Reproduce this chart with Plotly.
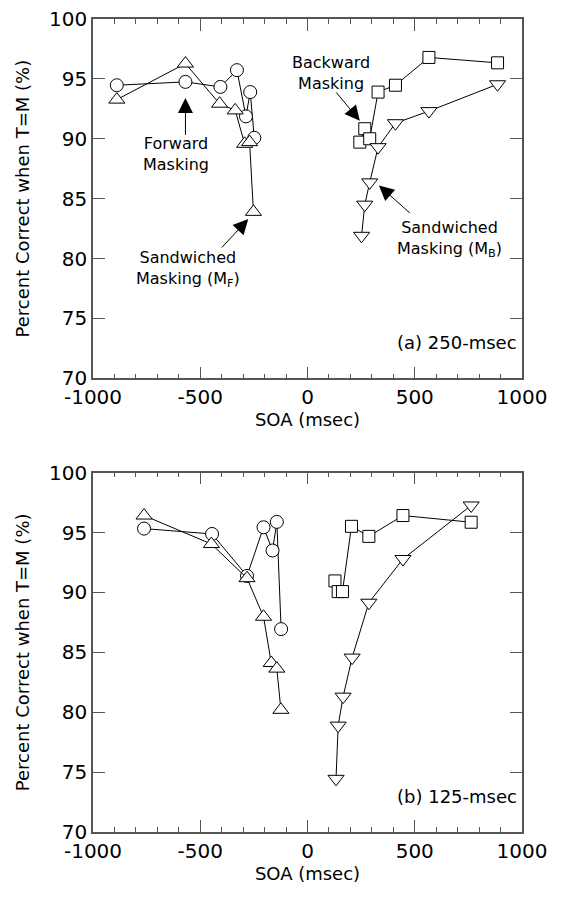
import plotly.graph_objects as go
from plotly.subplots import make_subplots

# Panel (a) 250-msec
a_fwd_x = [-889, -569, -406, -329, -287, -267, -248]
a_fwd_y = [94.47, 94.75, 94.33, 95.73, 91.87, 93.90, 90.08]
a_sandF_x = [-889, -569, -410, -337, -293, -270, -252]
a_sandF_y = [93.27, 96.28, 92.93, 92.37, 89.58, 89.72, 83.90]
a_bwd_x = [244, 267, 290, 329, 410, 566, 886]
a_bwd_y = [89.72, 90.84, 90.00, 93.90, 94.47, 96.79, 96.34]
a_sandB_x = [252, 267, 290, 329, 410, 566, 886]
a_sandB_y = [81.90, 84.50, 86.36, 89.30, 91.30, 92.31, 94.55]

# Panel (b) 125-msec
b_fwd_x = [-762, -445, -282, -205, -163, -143, -123]
b_fwd_y = [95.33, 94.88, 91.38, 95.44, 93.50, 95.89, 86.94]
b_sandF_x = [-762, -448, -282, -205, -169, -143, -124]
b_sandF_y = [96.42, 94.04, 91.19, 87.97, 84.11, 83.64, 80.20]
b_bwd_x = [128, 143, 163, 205, 286, 445, 763]
b_bwd_y = [90.96, 90.07, 90.07, 95.52, 94.68, 96.42, 95.86]
b_sandB_x = [133, 143, 166, 208, 286, 445, 763]
b_sandB_y = [74.44, 78.88, 81.30, 84.56, 89.14, 92.79, 97.26]

x_ticks = [-1000, -500, 0, 500, 1000]
y_ticks = [70, 75, 80, 85, 90, 95, 100]

FONT = "DejaVu Sans"
AX = "#555555"

fig = make_subplots(rows=2, cols=1, vertical_spacing=0.116)

def add_series(row, x, y, symbol, size):
    fig.add_trace(go.Scatter(
        x=x, y=y, mode="lines+markers",
        line=dict(color="black", width=1),
        marker=dict(symbol=symbol, size=size, color="white",
                    line=dict(color="black", width=1)),
        showlegend=False, cliponaxis=False), row=row, col=1)

add_series(1, a_fwd_x, a_fwd_y, "circle", 13)
add_series(1, a_sandF_x, a_sandF_y, "triangle-up", 14)
add_series(1, a_bwd_x, a_bwd_y, "square", 12)
add_series(1, a_sandB_x, a_sandB_y, "triangle-down", 14)
add_series(2, b_fwd_x, b_fwd_y, "circle", 13)
add_series(2, b_sandF_x, b_sandF_y, "triangle-up", 14)
add_series(2, b_bwd_x, b_bwd_y, "square", 12)
add_series(2, b_sandB_x, b_sandB_y, "triangle-down", 14)

for r in (1, 2):
    fig.update_xaxes(range=[-1000, 1000], tickvals=x_ticks,
                     ticktext=[str(v) for v in x_ticks],
                     ticks="inside", ticklen=12, tickcolor=AX, tickwidth=1,
                     minor=dict(dtick=100, ticks="inside", ticklen=5, tickcolor=AX),
                     showline=True, linecolor=AX, linewidth=1.5, mirror="ticks",
                     showgrid=False, zeroline=False, automargin=False,
                     ticklabeloverflow="allow",
                     tickfont=dict(family=FONT, size=20, color="black"),
                     title=dict(text="SOA (msec)", font=dict(family=FONT, size=18, color="black"), standoff=2),
                     row=r, col=1)
    fig.update_yaxes(range=[70, 100], tickvals=y_ticks,
                     ticktext=[str(v) for v in y_ticks],
                     ticks="inside", ticklen=12, tickcolor=AX, tickwidth=1,
                     showline=True, linecolor=AX, linewidth=1.5, mirror="ticks",
                     showgrid=False, zeroline=False, automargin=False,
                     ticklabeloverflow="allow",
                     tickfont=dict(family=FONT, size=20, color="black"),
                     title=dict(text="Percent Correct when T=M (%)", font=dict(family=FONT, size=18, color="black"), standoff=15),
                     row=r, col=1)

ann_font = dict(family=FONT, size=16, color="black")
annotations = []

def text(xref, yref, x, y, t, **kw):
    d = dict(xref=xref, yref=yref, x=x, y=y, text=t, showarrow=False, font=ann_font)
    d.update(kw)
    annotations.append(d)

def arrow(xref, yref, x0, y0, x1, y1):
    annotations.append(dict(xref=xref, yref=yref, axref=xref, ayref=yref,
                            x=x1, y=y1, ax=x0, ay=y0, text="", showarrow=True,
                            arrowhead=2, arrowsize=3, arrowwidth=1, arrowcolor="black",
                            standoff=0, startstandoff=0))

text("x", "y", -611, 88.7, "Forward<br>Masking")
arrow("x", "y", -569, 90.2, -569, 93.4)
text("x", "y", -555, 79.1, "Sandwiched<br>Masking (M<sub>F</sub>)")
arrow("x", "y", -406, 80.8, -276, 83.3)
text("x", "y", 109, 95.5, "Backward<br>Masking")
arrow("x", "y", 128, 94.0, 244, 91.5)
text("x", "y", 662, 81.6, "Sandwiched<br>Masking (M<sub>B</sub>)")
arrow("x", "y", 484, 83.7, 333, 86.1)
text("x", "y", 1000, 73.0, "(a) 250-msec", xanchor="right", xshift=-3,
     font=dict(family=FONT, size=18, color="black"))
text("x2", "y2", 1000, 73.0, "(b) 125-msec", xanchor="right", xshift=-3,
     font=dict(family=FONT, size=18, color="black"))

# page body has an 8px default margin, so the figure is 8px smaller than the window
fig.update_layout(width=553, height=889, margin=dict(l=85, r=39, t=11, b=65),
                  plot_bgcolor="white", paper_bgcolor="white",
                  annotations=annotations, font=dict(family=FONT))

fig.write_html("out.html")
